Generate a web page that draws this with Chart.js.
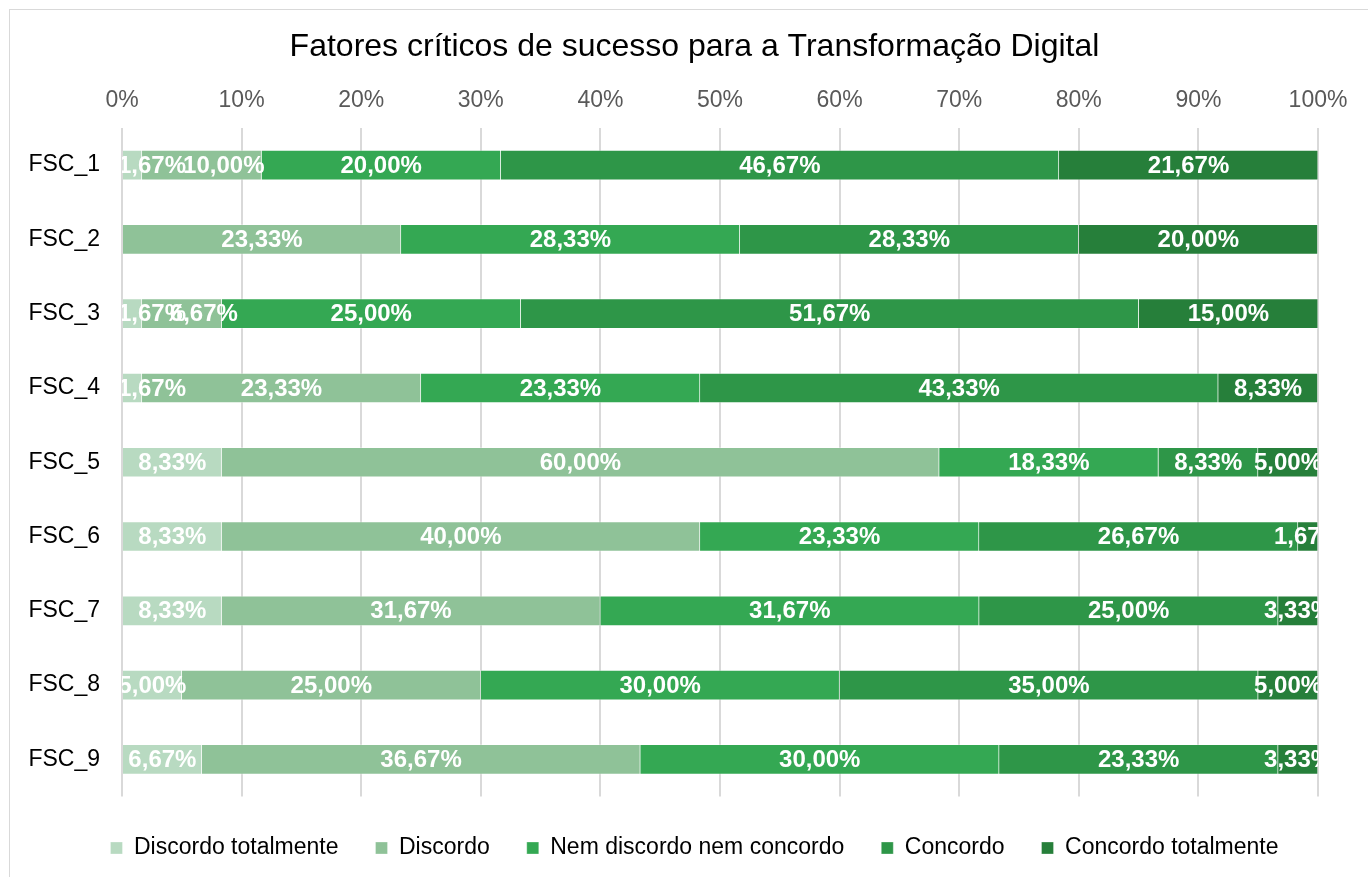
<!DOCTYPE html>
<html lang="pt">
<head>
<meta charset="utf-8">
<title>Fatores críticos de sucesso</title>
<script src="https://cdn.jsdelivr.net/npm/chart.js@4/dist/chart.umd.min.js"></script>
<style>
    html, body { margin: 0; padding: 0; background: #fff; overflow: hidden; }
    #frame {
        position: absolute; left: 9px; top: 9px;
        width: 1400px; height: 900px;
        border: 1px solid #d9d9d9;
    }
    #chart { position: absolute; left: 0; top: 0; }
</style>
</head>
<body>
<div id="frame"></div>
<!-- canvas is a bit wider than the window: the original chart is cut off on the right -->
<canvas id="chart" width="1389" height="877"></canvas>
<script>
// Categories (top to bottom)
const categories = ['FSC_1', 'FSC_2', 'FSC_3', 'FSC_4', 'FSC_5', 'FSC_6', 'FSC_7', 'FSC_8', 'FSC_9'];

// Series values (%)
const discordoTotalmente = [1.67, 0, 1.67, 1.67, 8.33, 8.33, 8.33, 5.00, 6.67];
const discordo = [10.00, 23.33, 6.67, 23.33, 60.00, 40.00, 31.67, 25.00, 36.67];
const nemDiscordoNemConcordo = [20.00, 28.33, 25.00, 23.33, 18.33, 23.33, 31.67, 30.00, 30.00];
const concordo = [46.67, 28.33, 51.67, 43.33, 8.33, 26.67, 25.00, 35.00, 23.33];
const concordoTotalmente = [21.67, 20.00, 15.00, 8.33, 5.00, 1.67, 3.33, 5.00, 3.33];

const seriesLabels = ['Discordo totalmente', 'Discordo', 'Nem discordo nem concordo', 'Concordo', 'Concordo totalmente'];
const seriesColors = ['#b8dac1', '#8fc298', '#34a853', '#2e9648', '#267f3a'];

// Axis ticks
const xTicks = [0, 10, 20, 30, 40, 50, 60, 70, 80, 90, 100];

Chart.defaults.font.family = "'Liberation Sans', Arial, sans-serif";

const formatPct = (v) => v.toFixed(2).replace('.', ',') + '%';

/**
 * Draw white value labels in each segment, clipped to the plot area.
 * Labels sticking out on the left are nudged inside, and a label that
 * runs into the previous one is pushed a little to the right.
 */
const segmentLabels = {
    id: 'segmentLabels',
    afterDatasetsDraw(chart) {
        const ctx = chart.ctx;
        const area = chart.chartArea;
        ctx.save();
        ctx.beginPath();
        ctx.rect(area.left, area.top, area.right - area.left, area.bottom - area.top);
        ctx.clip();
        ctx.font = "bold 24px 'Liberation Sans', Arial, sans-serif";
        ctx.fillStyle = '#ffffff';
        ctx.textAlign = 'left';
        ctx.textBaseline = 'middle';

        const count = chart.data.labels.length;
        for (let j = 0; j < count; j++) {
            let prevRight = -Infinity;
            chart.data.datasets.forEach((ds, i) => {
                const v = ds.data[j];
                if (!v) return;
                const bar = chart.getDatasetMeta(i).data[j];
                const text = formatPct(v);
                const w = ctx.measureText(text).width;
                let left = (bar.x + bar.base) / 2 - w / 2;
                if (left < area.left - 4) {
                    left = area.left - 4;
                }
                const overlap = prevRight - left;
                if (overlap > 0) {
                    left += Math.min(overlap, 22);
                }
                ctx.fillText(text, left, bar.y + 1);
                prevRight = left + w;
            });
        }
        ctx.restore();
    }
};

const seriesData = [discordoTotalmente, discordo, nemDiscordoNemConcordo, concordo, concordoTotalmente];

const datasets = seriesData.map((data, i) => ({
    label: seriesLabels[i],
    data: data,
    backgroundColor: seriesColors[i],
    borderColor: 'rgba(255, 255, 255, 0.3)',
    borderWidth: 1,
    barThickness: 30,
    xAxisID: 'x',
    yAxisID: 'y'
}));

new Chart(document.getElementById('chart'), {
    type: 'bar',
    data: {
        labels: categories,
        datasets: datasets
    },
    options: {
        indexAxis: 'y',
        responsive: false,
        animation: false,
        layout: {
            padding: { left: 0, right: 0, top: 0, bottom: 7.5 }
        },
        plugins: {
            title: {
                display: true,
                text: 'Fatores críticos de sucesso para a Transformação Digital',
                color: '#000000',
                font: { size: 32, weight: 'normal' },
                padding: { top: 28, bottom: 0 }
            },
            legend: {
                display: true,
                position: 'bottom',
                labels: {
                    color: '#000000',
                    font: { size: 23 },
                    boxWidth: 12,
                    boxHeight: 12,
                    padding: 37
                }
            },
            tooltip: { enabled: false }
        },
        scales: {
            x: {
                type: 'linear',
                position: 'top',
                stacked: true,
                min: 0,
                max: 100,
                afterBuildTicks: (scale) => {
                    scale.ticks = xTicks.map(v => ({ value: v }));
                },
                afterFit: (scale) => { scale.height = 61.6; },
                ticks: {
                    color: '#595959',
                    font: { size: 23 },
                    padding: 14,
                    callback: (v) => v + '%'
                },
                grid: {
                    color: '#d9d9d9',
                    lineWidth: 2,
                    drawTicks: false
                },
                border: { display: false }
            },
            // empty spacer between the plot and the legend
            xb: {
                type: 'linear',
                axis: 'x',
                position: 'bottom',
                display: true,
                ticks: { display: false },
                grid: { display: false },
                border: { display: false },
                afterFit: (scale) => { scale.height = 3; }
            },
            y: {
                type: 'category',
                stacked: true,
                afterFit: (scale) => { scale.width = 122; },
                ticks: {
                    color: '#000000',
                    font: { size: 23 },
                    padding: 14
                },
                grid: { display: false },
                border: { display: false }
            },
            // empty spacer on the right so title and legend stay centred like the original
            yr: {
                type: 'linear',
                axis: 'y',
                position: 'right',
                display: true,
                ticks: { display: false },
                grid: { display: false },
                border: { display: false },
                afterFit: (scale) => { scale.width = 71; }
            }
        }
    },
    plugins: [segmentLabels]
});
</script>
</body>
</html>
